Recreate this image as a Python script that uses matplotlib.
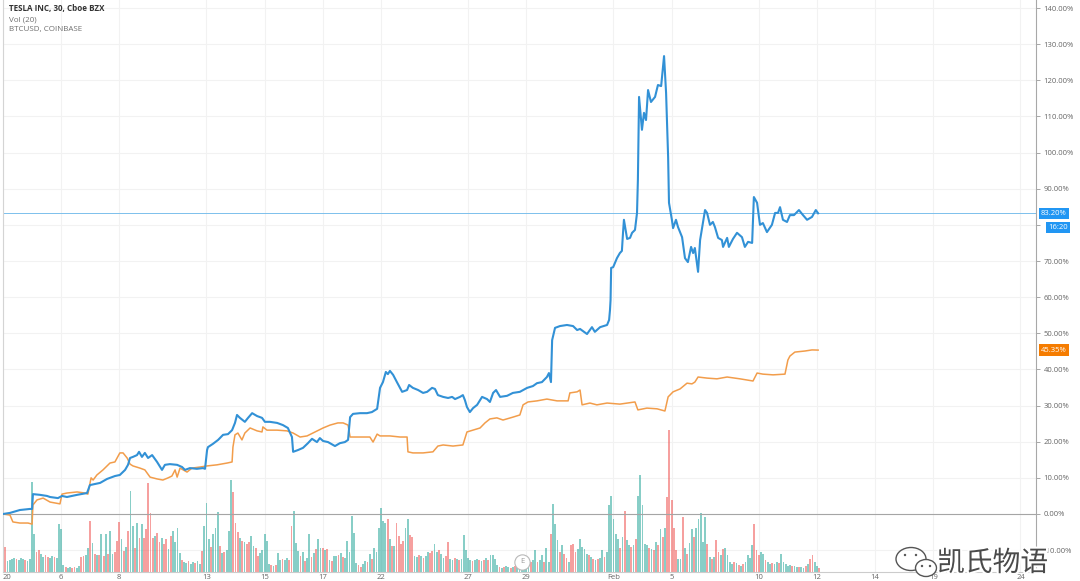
import matplotlib
matplotlib.use('Agg')
import matplotlib.pyplot as plt
import matplotlib.transforms as mtransforms
import matplotlib.patheffects as pe
from matplotlib.patches import Ellipse, Circle

plt.rcParams['font.family'] = ['Open Sans', 'DejaVu Sans']

# Ось времени: торговые дни от 2 января (30-минутные бары, 13 баров в день)
tick_days = [0, 2, 4, 7, 9, 11, 13, 16, 18, 21, 23, 26, 28, 30, 32, 35]
tick_labels = ['20', '6', '8', '13', '15', '17', '22', '27', '29', 'Feb',
               '5', '10', '12', '14', '19', '24']
y_ticks = list(range(-10, 141, 10))
bars_per_day = 13

# TSLA, изменение в % (торговый день, значение)
tsla = [(0.00, 0.0), (0.24, 0.3), (0.58, 1.1), (0.93, 1.4), (1.00, 1.4), (1.03, 5.5),
        (1.27, 5.3), (1.51, 5.0), (1.62, 4.7), (1.89, 4.4), (2.03, 5.0), (2.20, 4.7),
        (2.55, 5.3), (2.89, 5.8), (2.99, 8.0), (3.16, 8.3), (3.34, 8.6), (3.58, 9.7),
        (3.85, 10.5), (4.02, 10.8), (4.20, 12.2), (4.30, 13.6), (4.37, 15.5), (4.47, 15.8),
        (4.61, 16.3), (4.68, 17.2), (4.78, 15.8), (4.88, 16.9), (4.99, 15.5), (5.13, 16.3),
        (5.30, 14.4), (5.47, 12.2), (5.57, 13.6), (5.74, 13.8), (5.99, 13.6), (6.16, 13.0),
        (6.26, 12.2), (6.43, 12.7), (6.67, 12.5), (6.88, 12.7), (6.95, 12.5), (7.02, 17.7),
        (7.05, 18.5), (7.22, 19.4), (7.40, 20.5), (7.57, 21.9), (7.74, 22.1), (7.88, 23.2),
        (7.98, 25.2), (8.05, 27.4), (8.15, 26.6), (8.32, 25.5), (8.43, 26.6), (8.57, 27.9),
        (8.74, 27.1), (8.91, 26.6), (9.01, 25.5), (9.18, 25.5), (9.43, 25.2), (9.63, 24.6),
        (9.80, 23.8), (9.94, 21.3), (9.98, 17.2), (10.15, 17.7), (10.32, 18.3), (10.49, 19.6),
        (10.63, 20.8), (10.80, 19.9), (10.90, 21.0), (11.01, 20.2), (11.18, 19.9), (11.42, 18.8),
        (11.59, 19.6), (11.76, 19.9), (11.87, 20.5), (11.94, 26.8), (12.04, 27.7), (12.28, 27.9),
        (12.52, 27.9), (12.69, 28.2), (12.87, 29.1), (12.97, 34.9), (13.07, 36.5), (13.17, 39.3),
        (13.24, 38.7), (13.31, 39.6), (13.42, 38.5), (13.55, 36.5), (13.73, 33.8), (13.90, 34.3),
        (13.97, 35.7), (14.10, 34.9), (14.28, 34.3), (14.45, 33.5), (14.59, 33.8), (14.76, 34.9),
        (14.86, 34.6), (14.96, 32.9), (15.14, 32.4), (15.31, 32.1), (15.45, 32.4), (15.55, 31.8),
        (15.72, 32.4), (15.82, 32.9), (15.89, 31.5), (15.96, 29.6), (16.06, 28.2), (16.17, 29.3),
        (16.31, 30.2), (16.48, 32.4), (16.65, 31.8), (16.75, 31.0), (16.86, 33.5), (16.96, 34.3),
        (17.10, 32.4), (17.34, 32.7), (17.54, 33.5), (17.78, 33.8), (18.03, 34.9), (18.23, 35.4),
        (18.37, 36.2), (18.54, 36.5), (18.71, 37.9), (18.78, 39.0), (18.85, 36.5), (18.89, 48.1),
        (18.99, 51.5), (19.16, 52.0), (19.40, 52.3), (19.61, 52.0), (19.75, 50.9), (19.85, 51.2),
        (20.09, 49.8), (20.26, 51.7), (20.36, 50.4), (20.54, 51.7), (20.78, 52.3), (20.85, 53.7),
        (20.88, 56.4), (20.90, 59.2), (20.92, 68.1), (20.99, 68.3), (21.12, 70.8), (21.22, 72.2),
        (21.29, 72.8), (21.33, 78.0), (21.36, 81.4), (21.47, 76.1), (21.57, 76.4), (21.64, 77.8),
        (21.74, 78.6), (21.81, 83.3), (21.84, 92.4), (21.88, 115.4), (21.98, 106.3), (22.05, 111.0),
        (22.12, 109.0), (22.19, 117.3), (22.29, 114.0), (22.43, 115.4), (22.53, 118.7), (22.64, 118.4),
        (22.74, 126.7), (22.81, 116.5), (22.88, 98.8), (22.91, 86.1), (23.01, 81.4), (23.05, 79.1),
        (23.15, 81.4), (23.22, 79.4), (23.36, 76.6), (23.46, 70.8), (23.56, 69.7), (23.67, 73.9),
        (23.74, 72.2), (23.80, 73.6), (23.91, 67.0), (23.98, 75.8), (24.15, 84.1), (24.22, 83.3),
        (24.32, 80.0), (24.42, 80.8), (24.49, 79.4), (24.60, 76.4), (24.73, 75.8), (24.77, 73.9),
        (24.91, 76.4), (24.97, 73.9), (25.11, 76.1), (25.25, 77.8), (25.42, 76.6), (25.52, 73.9),
        (25.63, 75.3), (25.77, 75.0), (25.83, 87.7), (25.94, 86.1), (26.04, 80.0), (26.14, 80.5),
        (26.28, 78.0), (26.45, 80.0), (26.56, 83.3), (26.66, 83.3), (26.73, 84.9), (26.83, 81.4),
        (26.97, 80.8), (27.07, 82.7), (27.21, 82.7), (27.38, 84.1), (27.52, 82.7), (27.66, 81.4),
        (27.83, 82.2), (27.96, 84.1), (28.04, 83.2)]

# BTCUSD, изменение в %
btc = [(0.00, 0.0), (0.24, -0.3), (0.34, -2.2), (0.58, -2.5), (0.86, -2.5), (1.00, -2.8),
       (1.03, 2.5), (1.17, 3.9), (1.38, 4.4), (1.62, 3.3), (1.96, 2.8), (2.03, 5.5),
       (2.20, 5.8), (2.55, 6.1), (2.82, 5.8), (2.92, 5.5), (3.03, 10.0), (3.10, 9.4),
       (3.23, 10.8), (3.44, 12.2), (3.68, 14.1), (3.85, 14.4), (4.02, 16.9), (4.13, 16.9),
       (4.27, 15.5), (4.37, 13.8), (4.47, 13.3), (4.71, 12.7), (4.88, 12.2), (5.06, 10.2),
       (5.30, 9.7), (5.50, 9.4), (5.68, 10.0), (5.81, 10.5), (5.92, 12.2), (5.99, 10.2),
       (6.09, 12.7), (6.33, 11.6), (6.50, 12.7), (6.78, 13.0), (7.02, 13.3), (7.36, 13.6),
       (7.71, 14.1), (7.88, 14.4), (7.91, 18.5), (7.98, 21.9), (8.08, 22.4), (8.22, 20.5),
       (8.32, 22.4), (8.50, 23.8), (8.74, 23.0), (8.91, 22.7), (8.94, 24.1), (9.08, 23.2),
       (9.43, 23.2), (9.77, 23.0), (9.98, 22.4), (10.22, 21.3), (10.46, 21.6), (10.66, 22.4),
       (11.01, 23.8), (11.25, 24.6), (11.52, 25.2), (11.70, 25.2), (11.87, 24.6), (11.94, 21.3),
       (12.28, 21.3), (12.62, 21.3), (12.73, 19.9), (12.87, 22.1), (12.97, 21.6), (13.31, 21.6),
       (13.66, 21.3), (13.90, 21.3), (13.93, 17.2), (14.10, 16.9), (14.45, 16.9), (14.79, 17.2),
       (14.96, 18.8), (15.14, 19.1), (15.48, 18.8), (15.82, 19.1), (15.96, 22.7), (16.17, 23.2),
       (16.41, 23.8), (16.58, 25.2), (16.75, 26.3), (16.99, 26.6), (17.20, 26.0), (17.54, 26.8),
       (17.78, 27.4), (17.89, 30.2), (18.06, 31.0), (18.37, 31.3), (18.71, 31.8), (19.06, 31.3),
       (19.44, 31.3), (19.50, 33.5), (19.75, 33.8), (19.85, 34.3), (19.92, 30.2), (20.19, 30.7),
       (20.43, 30.2), (20.78, 30.7), (21.22, 30.4), (21.74, 31.0), (21.84, 28.8), (22.15, 29.3),
       (22.50, 29.1), (22.77, 28.5), (22.88, 32.4), (23.05, 33.8), (23.29, 34.6), (23.53, 36.2),
       (23.70, 36.0), (23.80, 36.5), (23.91, 37.9), (24.22, 37.6), (24.56, 37.4), (24.91, 37.9),
       (25.35, 37.4), (25.80, 36.8), (25.94, 39.0), (26.14, 38.7), (26.49, 38.5), (26.90, 38.7),
       (27.00, 42.6), (27.07, 43.7), (27.24, 44.8), (27.59, 45.1), (27.83, 45.4), (28.04, 45.35)]

# Объём TSLA по барам, одна строка = один торговый день
volume = [
    [20, 25, 11, 12, 13, 14, 13, 12, 14, 13, 12, 11, 13],
    [90, 38, 20, 22, 18, 15, 17, 15, 14, 16, 15, 14, 48],
    [43, 7, 5, 4, 5, 4, 5, 4, 6, 15, 16, 17, 24],
    [51, 29, 18, 17, 17, 38, 16, 38, 18, 41, 18, 20, 31],
    [50, 33, 21, 25, 41, 81, 46, 24, 49, 34, 48, 34, 43],
    [89, 59, 34, 36, 39, 30, 34, 28, 33, 23, 36, 41, 30],
    [44, 19, 12, 10, 9, 11, 8, 10, 9, 11, 8, 21, 46],
    [69, 33, 25, 38, 44, 60, 26, 19, 20, 22, 41, 92, 80],
    [49, 40, 34, 31, 30, 28, 30, 36, 26, 24, 16, 19, 22],
    [38, 31, 8, 7, 6, 7, 19, 12, 13, 12, 14, 12, 46],
    [61, 29, 21, 16, 20, 11, 14, 38, 15, 19, 23, 33, 24],
    [24, 22, 23, 12, 11, 16, 16, 17, 19, 15, 14, 31, 20],
    [56, 39, 9, 7, 5, 8, 11, 10, 18, 13, 24, 20, 44],
    [64, 51, 49, 53, 33, 26, 26, 49, 36, 28, 31, 44, 53],
    [37, 35, 16, 15, 17, 16, 14, 16, 20, 19, 21, 28, 20],
    [22, 18, 14, 16, 30, 13, 12, 14, 13, 12, 13, 37, 22],
    [14, 12, 11, 12, 13, 12, 11, 12, 14, 12, 17, 17, 13],
    [7, 5, 4, 5, 6, 5, 4, 5, 6, 7, 5, 8, 10],
    [10, 11, 10, 12, 22, 10, 12, 17, 10, 24, 10, 38, 68],
    [48, 32, 20, 27, 18, 14, 10, 27, 28, 20, 23, 33, 25],
    [23, 18, 17, 15, 13, 12, 13, 14, 22, 15, 20, 67, 76],
    [53, 38, 33, 24, 35, 61, 32, 27, 25, 27, 33, 76, 97],
    [67, 28, 27, 24, 23, 22, 30, 27, 43, 35, 44, 75, 142],
    [72, 44, 22, 13, 13, 55, 24, 18, 29, 43, 35, 44, 53],
    [59, 30, 55, 28, 15, 13, 15, 32, 20, 17, 23, 24, 17],
    [10, 8, 10, 9, 7, 6, 8, 10, 17, 14, 27, 48, 22],
    [17, 20, 18, 12, 10, 8, 9, 8, 10, 9, 18, 10, 8],
    [6, 7, 6, 6, 5, 5, 5, 4, 6, 8, 13, 17, 10],
    [6, 4],
]

# Номера "красных" баров (закрытие ниже открытия) в каждом дне
red_bars = [
    [1, 6, 10], [2, 3, 6, 7, 10], [2, 5, 6, 9, 10], [0, 2, 4, 6, 8, 11, 12],
    [0, 2, 4, 7, 9, 11, 12], [0, 1, 2, 4, 5, 7, 8, 10], [2, 5, 8, 11], [2, 6, 8, 12],
    [0, 1, 3, 5, 6, 9, 10], [3, 5, 8, 11, 12], [3, 5, 8, 10], [0, 2, 4, 7, 9],
    [3, 4, 7, 9], [3, 5, 7, 8, 9, 10], [0, 1, 4, 6, 9, 10], [0, 3, 4, 7, 9],
    [2, 5, 7, 9], [1, 3, 6, 8], [2, 5, 8, 11], [2, 4, 5, 7, 8, 9],
    [2, 4, 6, 9], [3, 5, 8, 10], [3, 5, 7, 9, 11, 12], [0, 1, 2, 5, 7, 10],
    [3, 5, 7, 8, 10], [2, 4, 6, 11, 12], [0, 3, 6, 9], [2, 5, 8, 10, 11], [1],
]

tsla_last = 83.20
btc_last = 45.35
countdown = '16:20'
earnings_day = 17.85

# ---- фигура ----
W, H = 1080, 581
fig = plt.figure(figsize=(W / 100, H / 100), dpi=100)
ax = fig.add_axes([3 / W, 9 / H, 1033 / W, 572 / H])
ax.set_xlim(0, 35.535)
ax.set_ylim(-16.05, 142.22)

ax.set_xticks(tick_days)
ax.set_xticklabels(tick_labels)
ax.set_yticks(y_ticks)
# подпись 80% на оригинале закрыта плашкой таймера
ax.set_yticklabels(['' if v == 80 else f'{v:.2f}%' for v in y_ticks])
ax.yaxis.tick_right()
ax.grid(True, color='#f2f2f2', linewidth=0.8)
ax.set_axisbelow(True)
ax.tick_params(axis='x', length=0, pad=1.5, labelsize=5.5, labelcolor='#666666')
ax.tick_params(axis='y', length=3, width=0.6, color='#999999', pad=2.5,
               labelsize=5.5, labelcolor='#666666')
ax.get_xticklabels()[0].set_ha('left')
ax.spines['top'].set_visible(False)
ax.spines['right'].set_color('#a8a8a8')
ax.spines['bottom'].set_color('#cccccc')
ax.spines['left'].set_color('#d4d4d4')

# Объём: отдельная шкала, занимает нижнюю часть
vol_top = max(max(r) for r in volume) * 4.03
vol_trans = mtransforms.blended_transform_factory(
    ax.transData, mtransforms.Affine2D().scale(1, 1 / vol_top) + ax.transAxes)
xs, hs, cs = [], [], []
for k, row in enumerate(volume):
    for j, v in enumerate(row):
        xs.append(k + j / bars_per_day)
        hs.append(v)
        cs.append('#ef5350' if j in red_bars[k] else '#26a69a')
ax.bar(xs, hs, width=0.8 / bars_per_day, color=cs, alpha=0.55, linewidth=0,
       transform=vol_trans, zorder=1)

ax.axhline(0, color='#a5a5a5', linewidth=0.8, zorder=1.5)
ax.axhline(tsla_last, color='#7cc0ec', linewidth=0.7, zorder=1.6)

ax.plot([p[0] for p in btc], [p[1] for p in btc], color='#f29d4b', linewidth=1.1, zorder=3)
ax.plot([p[0] for p in tsla], [p[1] for p in tsla], color='#3291d6', linewidth=1.5, zorder=4)

# Метка события (отчётность)
ev_trans = mtransforms.blended_transform_factory(ax.transData, ax.transAxes)
ax.plot([earnings_day], [0.0175], transform=ev_trans, marker='o', markersize=11,
        markerfacecolor='white', markeredgecolor='#b8b8b8', markeredgewidth=0.8,
        clip_on=False, zorder=6)
ax.text(earnings_day, 0.0175, 'E', transform=ev_trans, ha='center', va='center',
        fontsize=5.5, color='#999999', zorder=7)

# Метки последних значений справа
lab_trans = mtransforms.blended_transform_factory(ax.transAxes, ax.transData)
ax.annotate(f'{tsla_last:.2f}%', xy=(1, tsla_last), xycoords=lab_trans, xytext=(5, 0),
            textcoords='offset pixels', ha='left', va='center', fontsize=5.5, color='white',
            bbox=dict(boxstyle='square,pad=0.3', fc='#2196f3', ec='none'), annotation_clip=False)
ax.annotate(countdown, xy=(1, tsla_last), xycoords=lab_trans, xytext=(12, -14),
            textcoords='offset pixels', ha='left', va='center', fontsize=5.5, color='white',
            bbox=dict(boxstyle='square,pad=0.3', fc='#2196f3', ec='none'), annotation_clip=False)
ax.annotate(f'{btc_last:.2f}%', xy=(1, btc_last), xycoords=lab_trans, xytext=(5, 0),
            textcoords='offset pixels', ha='left', va='center', fontsize=5.5, color='white',
            bbox=dict(boxstyle='square,pad=0.3', fc='#f57c00', ec='none'), annotation_clip=False)

# Верхний левый угол и водяной знак
ov = fig.add_axes([0, 0, 1, 1], zorder=5)
ov.set_xlim(0, W)
ov.set_ylim(H, 0)
ov.axis('off')
ov.text(9, 9, 'TESLA INC, 30, Cboe BZX', fontsize=5.8, fontweight='bold', color='#333333', va='center')
ov.text(9, 20, 'Vol (20)', fontsize=5.8, color='#6f6f6f', va='center')
ov.text(9, 30, 'BTCUSD, COINBASE', fontsize=5.8, color='#6f6f6f', va='center')

ov.add_patch(Ellipse((911, 559), 30, 23, fill=False, ec='#555555', lw=1.0))
ov.add_patch(Ellipse((926, 568), 21, 17, fc='white', ec='#555555', lw=1.0))
for cx, cy in [(905, 555), (916, 555), (922, 566), (930, 566)]:
    ov.add_patch(Circle((cx, cy), 1.2, fc='#555555', ec='none'))
ov.text(937, 563, '凯氏物语', fontsize=20, family=['Noto Sans CJK SC', 'DejaVu Sans'],
        fontweight='light', color='#4a4a4a', ha='left', va='center',
        path_effects=[pe.withStroke(linewidth=3, foreground='white')])

fig.savefig('out.png', dpi=100, facecolor='white')
